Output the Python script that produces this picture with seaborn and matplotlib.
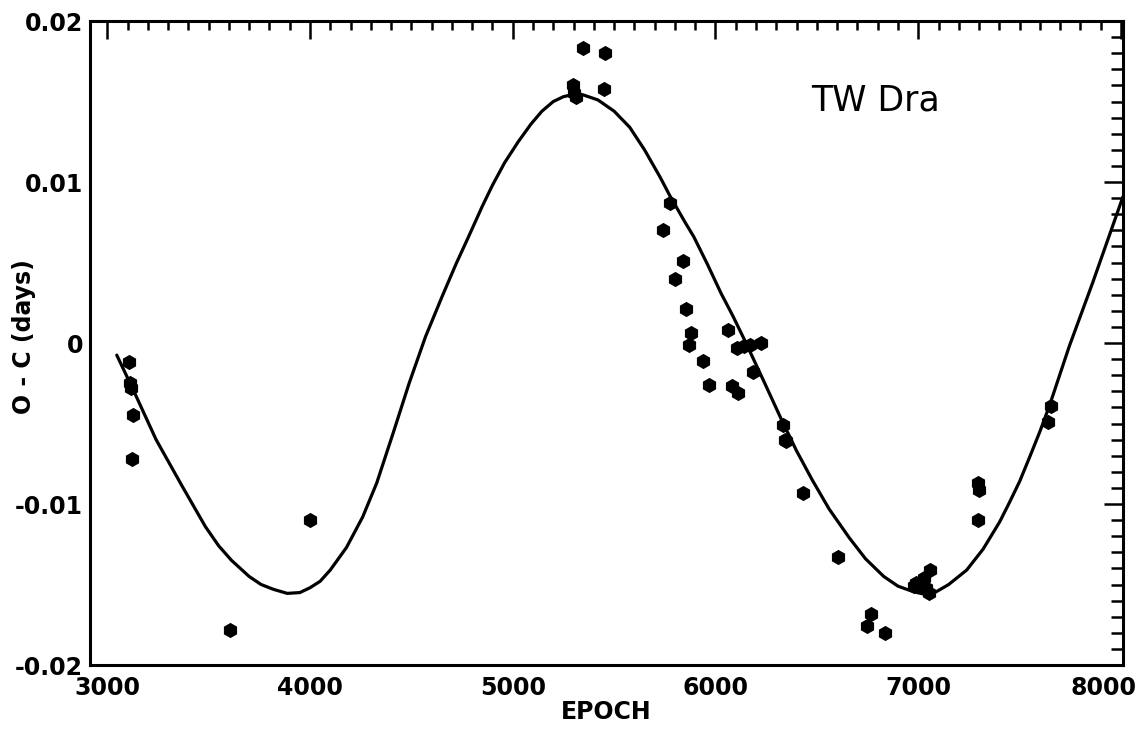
import matplotlib
matplotlib.use("Agg")
import matplotlib.pyplot as plt
import matplotlib.transforms as mtransforms
import seaborn as sns
import pandas as pd
from matplotlib.ticker import MultipleLocator

# observed O-C timings
obs_epoch = [3108, 3112, 3115, 3125, 3120, 3605, 3999,
             5297, 5300, 5310, 5347, 5455, 5452,
             5743, 5777, 5799, 5840, 5857, 5877, 5870, 5940, 5968,
             6060, 6080, 6113, 6107, 6140, 6168, 6223, 6185,
             6335, 6343, 6350, 6430, 6606, 6747, 6768, 6835,
             6977, 6990, 7010, 7027, 7040, 7051, 7059,
             7296, 7301, 7296, 7640, 7656]
obs_oc = [-0.0012, -0.0025, -0.0028, -0.0045, -0.0072, -0.0178, -0.0110,
          0.0160, 0.0155, 0.0153, 0.0183, 0.0180, 0.0158,
          0.0070, 0.0087, 0.0040, 0.0051, 0.0021, 0.0006, -0.0001, -0.0011, -0.0026,
          0.0008, -0.0027, -0.0031, -0.0003, -0.0002, -0.0001, 0.0000, -0.0018,
          -0.0051, -0.0060, -0.0061, -0.0093, -0.0133, -0.0176, -0.0168, -0.0180,
          -0.0151, -0.0149, -0.0151, -0.0146, -0.0152, -0.0155, -0.0141,
          -0.0110, -0.0091, -0.0087, -0.0049, -0.0039]

# fitted light-time curve
fit_epoch = [3047, 3128, 3241, 3370, 3484, 3550, 3613, 3700, 3759, 3820, 3888,
             3950, 4000, 4050, 4100, 4180, 4260, 4329, 4410, 4489, 4570, 4652,
             4720, 4782, 4850, 4900, 4960, 5027, 5090, 5144, 5200, 5250, 5302,
             5350, 5420, 5500, 5577, 5650, 5727, 5777, 5850, 5893, 5960, 6027,
             6085, 6143, 6243, 6327, 6400, 6477, 6560, 6660, 6740, 6830, 6900,
             6977, 7030, 7075, 7150, 7239, 7320, 7402, 7450, 7500, 7549, 7600,
             7647, 7745, 7859, 7957, 8010]
fit_oc = [-0.00075, -0.0029, -0.0060, -0.0089, -0.0114, -0.0126, -0.0135,
          -0.0145, -0.0150, -0.0153, -0.01555, -0.0155, -0.0152, -0.0148,
          -0.0141, -0.0127, -0.0108, -0.0087, -0.0056, -0.0025, 0.0004, 0.0029,
          0.0049, 0.0066, 0.0085, 0.0098, 0.0112, 0.0125, 0.0136, 0.0144,
          0.0150, 0.0153, 0.01545, 0.0154, 0.0151, 0.0144, 0.0134, 0.0120,
          0.0103, 0.0091, 0.0075, 0.0066, 0.0049, 0.0031, 0.0017, 0.0002,
          -0.0025, -0.0048, -0.0067, -0.0085, -0.0103, -0.0121, -0.0134,
          -0.0145, -0.0151, -0.01545, -0.0156, -0.01555, -0.0150, -0.0141,
          -0.0128, -0.0111, -0.0099, -0.0086, -0.0071, -0.0055, -0.0039,
          -0.0002, 0.0037, 0.0072, 0.0091]

x_ticks = [3000, 4000, 5000, 6000, 7000, 8000]
x_labels = ["3000", "4000", "5000", "6000", "7000", "8000"]
y_ticks = [-0.02, -0.01, 0.0, 0.01, 0.02]
y_labels = ["-0.02", "-0.01", "0", "0.01", "0.02"]

obs = pd.DataFrame({"EPOCH": obs_epoch, "OC": obs_oc})
fit = pd.DataFrame({"EPOCH": fit_epoch, "OC": fit_oc})

sns.set_style("white")
plt.rcParams["font.family"] = ["DejaVu Sans"]
plt.rcParams["text.color"] = "black"
plt.rcParams["axes.labelcolor"] = "black"

fig = plt.figure(figsize=(11.45, 7.3), dpi=100)
ax = fig.add_axes([0.0786, 0.089, 0.9022, 0.8822])

sns.lineplot(data=fit, x="EPOCH", y="OC", color="black", linewidth=2.3,
             sort=False, ax=ax)
sns.scatterplot(data=obs, x="EPOCH", y="OC", color="black", marker="h",
                s=120, edgecolor="black", linewidth=0, ax=ax, zorder=3)

ax.set_xlim(2915, 8010)
ax.set_ylim(-0.02, 0.02)
ax.set_xticks(x_ticks)
ax.set_xticklabels(x_labels)
ax.set_yticks(y_ticks)
ax.set_yticklabels(y_labels)
ax.xaxis.set_minor_locator(MultipleLocator(100))
ax.yaxis.set_minor_locator(MultipleLocator(0.001))

ax.tick_params(which="both", direction="in", top=True, right=True,
               width=1.8, colors="black")
ax.tick_params(axis="x", which="major", length=13, pad=8, labelsize=17)
ax.tick_params(axis="x", which="minor", length=6.5)
ax.tick_params(axis="y", which="major", length=14, pad=5, labelsize=17)
ax.tick_params(axis="y", which="minor", length=9)
for lab in ax.get_xticklabels() + ax.get_yticklabels():
    lab.set_fontweight("bold")
    lab.set_color("black")

# the last epoch label sits a little left of its tick, as in the original
last = ax.get_xticklabels()[-1]
last.set_transform(last.get_transform() +
                   mtransforms.ScaledTranslation(-0.17, 0, fig.dpi_scale_trans))

for sp in ax.spines.values():
    sp.set_linewidth(2.2)
    sp.set_color("black")

ax.set_xlabel("EPOCH", fontsize=17, fontweight="bold", labelpad=0)
ax.set_ylabel("O - C (days)", fontsize=17, fontweight="bold")
ax.yaxis.set_label_coords(-0.052, 0.51)

ax.text(0.76, 0.877, "TW Dra", transform=ax.transAxes, fontsize=25,
        ha="center", va="center", color="black")

fig.savefig("out.png", dpi=100)
